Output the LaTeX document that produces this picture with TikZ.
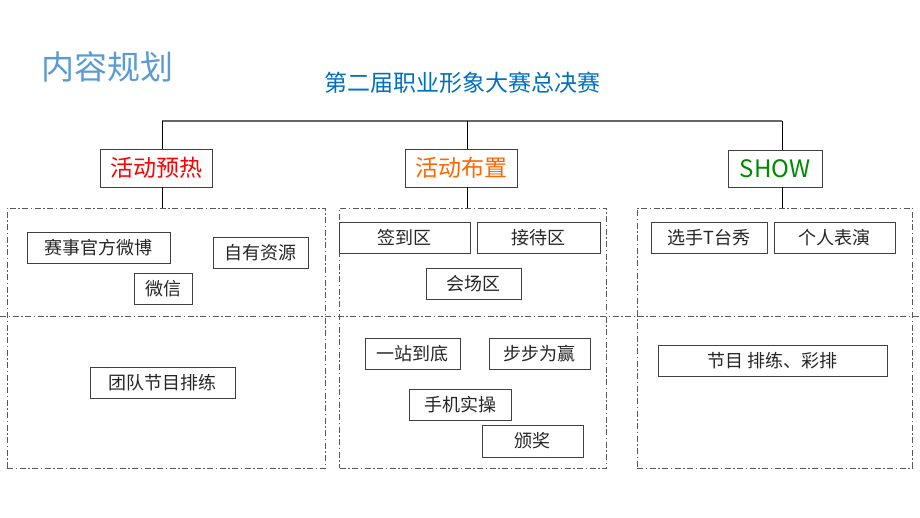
\documentclass[tikz,border=0pt]{standalone}
\usepackage{fontspec}
\setmainfont{Noto Sans CJK SC}
\newfontfamily\cjk{Noto Sans CJK SC}
\begin{document}
\begin{tikzpicture}[x=1pt,y=-1pt,
  itembox/.style={draw=black!75, line width=0.9pt, inner sep=0pt, font=\cjk\fontsize{18}{18}\selectfont, text=black!85},
  headbox/.style={draw=black!75, line width=0.9pt, inner sep=0pt, font=\cjk\fontsize{23}{23}\selectfont},
  region/.style={draw=black!65, line width=0.8pt, dash pattern=on 6pt off 2.5pt on 1.5pt off 2.5pt, inner sep=0pt},
  conn/.style={draw=black, line width=0.8pt}]
\useasboundingbox (0,0) rectangle (920,518);
\fill[white] (0,0) rectangle (920,518);
\definecolor{titleblue}{HTML}{5B9BD5}
\definecolor{subblue}{HTML}{0070C0}
\definecolor{orng}{HTML}{FF6600}
\definecolor{grn}{HTML}{008A00}
% titles
\node[font=\cjk\fontsize{33}{33}\selectfont, text=titleblue, inner sep=0pt] (title) at (107,67) {内容规划};
\node[font=\cjk\fontsize{23}{23}\selectfont, text=subblue, inner sep=0pt] (sub) at (462,83) {第二届职业形象大赛总决赛};
% regions
\node[region, minimum width=318pt, minimum height=260pt] (r1) at (166,338) {};
\node[region, minimum width=267pt, minimum height=260pt] (r2) at (473,338) {};
\node[region, minimum width=275pt, minimum height=260pt] (r3) at (774.5,338) {};
\coordinate (dl) at (0,316);
\coordinate (dr) at (920,316);
\draw[region] (dl) -- (dr);
% headers
\node[headbox, text=red, minimum width=112pt, minimum height=38pt] (h1) at (156,168) {活动预热};
\node[headbox, text=orng, minimum width=112pt, minimum height=38pt] (h2) at (461,168) {活动布置};
\node[headbox, text=grn, minimum width=94pt, minimum height=37pt, font=\cjk\fontsize{24}{24}\selectfont] (h3) at (775,168.5) {SHOW};
% tree
\coordinate (t1) at (162,121);
\coordinate (t2) at (467,121);
\coordinate (t3) at (782,121);
\draw[draw=black!60, line width=1.3pt] (t1) -- (t3);
\draw[conn] (t1) -- (t1 |- h1.north);
\draw[conn] (t2) -- (t2 |- h2.north);
\draw[conn] (t3) -- (t3 |- h3.north);
\draw[conn] (t1 |- h1.south) -- (t1 |- r1.north);
\draw[conn] (t2 |- h2.south) -- (t2 |- r2.north);
\draw[conn] (t3 |- h3.south) -- (t3 |- r3.north);
% left items
\node[itembox, minimum width=143pt, minimum height=31pt] (a1) at (98.5,247.5) {赛事官方微博};
\node[itembox, minimum width=95pt, minimum height=31pt] (a2) at (260.5,252.5) {自有资源};
\node[itembox, minimum width=58pt, minimum height=31pt] (a3) at (163,288.5) {微信};
\node[itembox, minimum width=145pt, minimum height=31pt] (a4) at (162.5,382.5) {团队节目排练};
% middle items
\node[itembox, minimum width=131pt, minimum height=31pt] (b1) at (404.5,237.5) {签到区};
\node[itembox, minimum width=123pt, minimum height=31pt] (b2) at (538.5,237.5) {接待区};
\node[itembox, minimum width=95pt, minimum height=31pt] (b3) at (473.5,283.5) {会场区};
\node[itembox, minimum width=95pt, minimum height=31pt] (b4) at (412.5,353.5) {一站到底};
\node[itembox, minimum width=101pt, minimum height=31pt] (b5) at (539.5,353.5) {步步为赢};
\node[itembox, minimum width=102pt, minimum height=31pt] (b6) at (460,404.5) {手机实操};
\node[itembox, minimum width=101pt, minimum height=32pt] (b7) at (532.5,441) {颁奖};
% right items
\node[itembox, minimum width=116pt, minimum height=31pt] (c1) at (709,237.5) {选手T台秀};
\node[itembox, minimum width=121pt, minimum height=31pt] (c2) at (834.5,237.5) {个人表演};
\node[itembox, minimum width=229pt, minimum height=31pt] (c3) at (772.5,360.5) {节目 排练、彩排};
\end{tikzpicture}
\end{document}
